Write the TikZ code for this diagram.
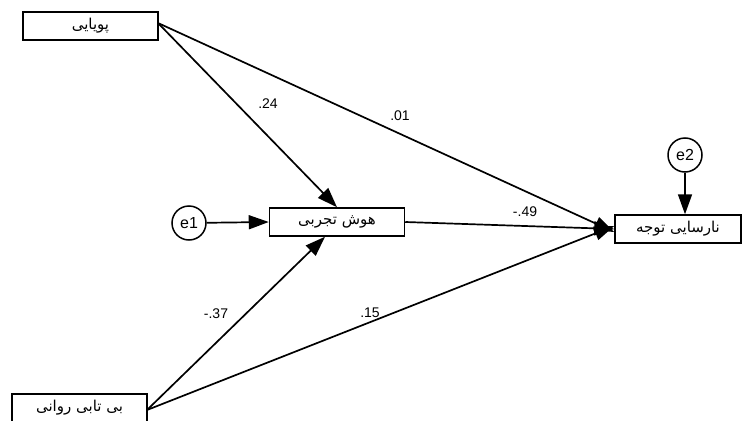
\documentclass[tikz,border=0pt]{standalone}
\usepackage{fontspec}
\setmainfont{Liberation Sans}
\newfontfamily\fa[Script=Arabic]{DejaVu Sans}
\TeXXeTstate=1
\usetikzlibrary{arrows.meta}
\begin{document}
\begin{tikzpicture}[x=1pt,y=-1pt,
  var/.style={draw,line width=1.5pt,minimum width=135pt,minimum height=28pt,inner sep=0pt,font=\fa\fontsize{15}{18}\selectfont},
  err/.style={draw,circle,line width=1.5pt,minimum size=34pt,inner sep=0pt,font=\fontsize{16}{19}\selectfont},
  path/.style={line width=1.7pt,-{Triangle[length=20pt,width=14pt]}},
  coef/.style={font=\fontsize{14}{17}\selectfont}]
\useasboundingbox (0,0) rectangle (743,420);
\node[var] (pw) at (90.5,26) {\beginR پویایی\endR};
\node[var] (bt) at (79.5,408) {\beginR بی تابی روانی\endR};
\node[var] (hs) at (337,222) {\beginR هوش تجربی\endR};
\node[var,minimum width=126pt] (nt) at (678,229) {\beginR نارسایی توجه\endR};
\node[err] (e1) at (189,223) {e1};
\node[err] (e2) at (685,155) {e2};
\coordinate (pwA) at (158,23);
\coordinate (btA) at (147,410);
\draw[path] (pwA) -- (hs.north);
\draw[path] (pwA) -- ([yshift=-3pt]nt.west);
\draw[path] (btA) -- ([xshift=-12pt]hs.south);
\draw[path] (btA) -- ([yshift=3pt]nt.west);
\draw[path] (hs.east) -- (nt.west);
\draw[path] (e1) -- (hs.west);
\draw[path] (e2) -- (e2 |- nt.north);
\node[coef] (c1) at (268,104) {.24};
\node[coef] (c2) at (400,116) {.01};
\node[coef] (c3) at (525,212) {-.49};
\node[coef] (c4) at (216,314) {-.37};
\node[coef] (c5) at (370,313) {.15};
\end{tikzpicture}
\end{document}
